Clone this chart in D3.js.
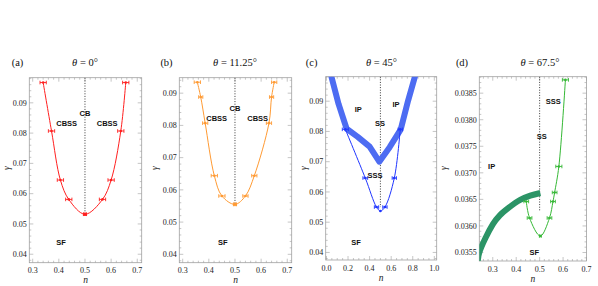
<!DOCTYPE html>
<html><head><meta charset="utf-8">
<script src="https://cdn.jsdelivr.net/npm/d3@7"></script>
<style>body{margin:0;background:#fff}svg{display:block}</style>
</head><body>
<svg id="chart" width="598" height="286"></svg>
<script>
// ---------- data ----------
const nA = [0.340, 0.372, 0.406, 0.438, 0.500, 0.567, 0.600, 0.637, 0.656];
const gA = [0.0967, 0.0807, 0.0645, 0.0581, 0.0532, 0.0581, 0.0645, 0.0807, 0.0967];
const eA = [0.012, 0.012, 0.012, 0.012, 0.006, 0.012, 0.012, 0.012, 0.012];

const nB = [0.356, 0.369, 0.386, 0.421, 0.450, 0.500, 0.540, 0.574, 0.630, 0.640, 0.650];
const gB = [0.0934, 0.0888, 0.0807, 0.0644, 0.0581, 0.0555, 0.0581, 0.0644, 0.0807, 0.0888, 0.0934];
const eB = [0.012, 0.008, 0.010, 0.012, 0.012, 0.006, 0.010, 0.010, 0.010, 0.008, 0.010];

const nC = [0.175, 0.360, 0.464, 0.500, 0.542, 0.629, 0.684];
const gC = [0.0807, 0.0646, 0.0550, 0.0537, 0.0550, 0.0646, 0.0807];
const eC = [0.028, 0.022, 0.020, 0, 0.020, 0.020, 0.020];
const nCband = [0.025, 0.112, 0.187, 0.290, 0.400, 0.490, 0.586, 0.689, 0.757, 0.840];
const gCband = [0.1010, 0.0891, 0.0809, 0.0782, 0.0750, 0.0700, 0.0748, 0.0807, 0.0902, 0.1006];

const nD = [0.443, 0.457, 0.503, 0.542, 0.557, 0.564, 0.582, 0.610];
const gD = [0.03646, 0.03615, 0.03581, 0.03615, 0.03646, 0.03663, 0.03712, 0.03875];
const eD = [0.010, 0.010, 0.004, 0.010, 0.010, 0.010, 0.013, 0.013];
const nDband = [0.235, 0.2425, 0.300, 0.330, 0.367, 0.417, 0.460, 0.503];
const gDband = [0.03530, 0.03550, 0.03603, 0.03620, 0.03634, 0.03649, 0.03657, 0.03662];

const xTicksAB = [0.3, 0.4, 0.5, 0.6, 0.7];
const yTicksABC = [0.04, 0.05, 0.06, 0.07, 0.08, 0.09];
const xTicksC = [0.0, 0.2, 0.4, 0.6, 0.8, 1.0];
const xTicksD = [0.3, 0.4, 0.5, 0.6, 0.7];
const yTicksD = [0.0355, 0.0360, 0.0365, 0.0370, 0.0375, 0.0380, 0.0385];

const titles = ["0", "11.25", "45", "67.5"];
const letters = ["(a)", "(b)", "(c)", "(d)"];

// ---------- layout ----------
const panels = [
  {box:[29.3,141.7,77.7,262.7], xd:[0.287,0.717], yd:[0.0372,0.0983], xt:xTicksAB, xm:0.02, yt:yTicksABC, ym:0.002,
   fx:".1f", fy:".2f", color:"#ff1f1f", n:nA, g:gA, e:eA, vErr:[4], dotTo:0.0532, lx:17.5, tx:85, gx:9.5,
   band:null,
   labels:[["CBSS",0.430,0.0834],["CB",0.500,0.0865],["CBSS",0.585,0.0834],["SF",0.408,0.0438]]},
  {box:[179.3,291.7,77.7,262.7], xd:[0.287,0.717], yd:[0.0374,0.0948], xt:xTicksAB, xm:0.02, yt:yTicksABC, ym:0.002,
   fx:".1f", fy:".2f", color:"#ff9a33", n:nB, g:gB, e:eB, vErr:[5], dotTo:0.0555, lx:166.5, tx:235, gx:157.5,
   band:null,
   labels:[["CBSS",0.430,0.0822],["CB",0.500,0.0852],["CBSS",0.587,0.0822],["SF",0.453,0.0436]]},
  {box:[325.7,436.7,76.7,260], xd:[-0.007,1.022], yd:[0.0375,0.0981], xt:xTicksC, xm:0.05, yt:yTicksABC, ym:0.002,
   fx:".1f", fy:".2f", color:"#1f35ff", n:nC, g:gC, e:eC, vErr:[], dotTo:0.0550, lx:311.7, tx:381.5, gx:307,
   band:[nCband,gCband], bandColor:"#4d6cf2", bandCurve:"linear",
   labels:[["IP",0.295,0.0874],["IP",0.645,0.0891],["SS",0.496,0.0827],["SSS",0.450,0.0656],["SF",0.274,0.0432]]},
  {box:[479.3,586.5,76.7,261], xd:[0.2425,0.7], yd:[0.03534,0.03881], xt:xTicksD, xm:0.02, yt:yTicksD, ym:0.0001,
   fx:".1f", fy:".4f", color:"#35b835", n:nD, g:gD, e:eD, vErr:[], dotTo:0.03627, lx:462, tx:540, gx:447,
   band:[nDband,gDband], bandColor:"#2b9466", bandCurve:"smooth",
   labels:[["SSS",0.558,0.03834],["SS",0.509,0.03769],["IP",0.295,0.03713],["SF",0.477,0.03551]]}
];

const svg = d3.select("#chart");
const serif = "'Liberation Serif','Times New Roman',serif";
const sans = "'Liberation Sans',Arial,sans-serif";
const frameCol = "#a0a0a0";
const textCol = "#222";

panels.forEach((p, i) => {
  const [L, R, T, B] = p.box;
  const x = d3.scaleLinear().domain(p.xd).range([L, R]);
  const y = d3.scaleLinear().domain(p.yd).range([B, T]);
  const g = svg.append("g");

  const cid = "clip" + i;
  svg.append("clipPath").attr("id", cid).append("rect")
    .attr("x", L).attr("y", T).attr("width", R - L).attr("height", B - T);

  g.append("rect").attr("x", L).attr("y", T).attr("width", R - L).attr("height", B - T)
    .attr("fill", "none").attr("stroke", frameCol).attr("stroke-width", 0.8);

  const inX = v => v >= p.xd[0] - 1e-9 && v <= p.xd[1] + 1e-9;
  const inY = v => v >= p.yd[0] - 1e-12 && v <= p.yd[1] + 1e-12;
  const xmin = d3.range(Math.ceil(p.xd[0] / p.xm - 1e-6), Math.floor(p.xd[1] / p.xm + 1e-6) + 1).map(k => k * p.xm);
  const ymin = d3.range(Math.ceil(p.yd[0] / p.ym - 1e-6), Math.floor(p.yd[1] / p.ym + 1e-6) + 1).map(k => k * p.ym);
  const tk = g.append("g").attr("stroke", frameCol).attr("stroke-width", 0.6);
  xmin.forEach(v => {
    const major = p.xt.some(t => Math.abs(t - v) < p.xm / 10);
    const len = major ? 4 : 2;
    tk.append("line").attr("x1", x(v)).attr("x2", x(v)).attr("y1", B).attr("y2", B - len);
    tk.append("line").attr("x1", x(v)).attr("x2", x(v)).attr("y1", T).attr("y2", T + len);
  });
  ymin.forEach(v => {
    const major = p.yt.some(t => Math.abs(t - v) < p.ym / 10);
    const len = major ? 4 : 2;
    tk.append("line").attr("y1", y(v)).attr("y2", y(v)).attr("x1", L).attr("x2", L + len);
    tk.append("line").attr("y1", y(v)).attr("y2", y(v)).attr("x1", R).attr("x2", R - len);
  });

  p.xt.filter(inX).forEach(v => {
    g.append("text").attr("x", x(v)).attr("y", B + 10.5).attr("text-anchor", "middle")
      .attr("font-family", serif).attr("font-size", 8).attr("fill", textCol).text(d3.format(p.fx)(v));
  });
  p.yt.filter(inY).forEach(v => {
    g.append("text").attr("x", L - 2.5).attr("y", y(v) + 2.8).attr("text-anchor", "end")
      .attr("font-family", serif).attr("font-size", 8).attr("fill", textCol).text(d3.format(p.fy)(v));
  });

  g.append("text").attr("x", (L + R) / 2).attr("y", B + 20.5).attr("text-anchor", "middle")
    .attr("font-family", serif).attr("font-style", "italic").attr("font-size", 9.5).attr("fill", textCol).text("n");
  g.append("text").attr("transform", `translate(${p.gx},168) rotate(-90)`).attr("text-anchor", "middle")
    .attr("font-family", serif).attr("font-style", "italic").attr("font-size", 9.5).attr("fill", textCol).text("γ");

  g.append("text").attr("x", p.lx).attr("y", 66).attr("text-anchor", "middle")
    .attr("font-family", serif).attr("font-size", 10.5).attr("fill", "#111").text(letters[i]);
  const tt = g.append("text").attr("x", p.tx).attr("y", 66).attr("text-anchor", "middle")
    .attr("font-family", serif).attr("font-size", 10.5).attr("fill", "#111");
  tt.append("tspan").attr("font-style", "italic").text("θ");
  tt.append("tspan").text(" = " + titles[i] + "°");

  const plot = g.append("g").attr("clip-path", `url(#${cid})`);

  plot.append("line").attr("x1", x(0.5)).attr("x2", x(0.5)).attr("y1", T).attr("y2", y(p.dotTo))
    .attr("stroke", "#222").attr("stroke-width", 0.9).attr("stroke-dasharray", "1,1.6");

  if (p.band) {
    const bd = p.band[0].map((v, k) => [v, p.band[1][k]]);
    const cv = p.bandCurve === "linear" ? d3.curveLinear : d3.curveCatmullRom.alpha(0.5);
    plot.append("path").datum(bd)
      .attr("d", d3.line().x(d => x(d[0])).y(d => y(d[1])).curve(cv))
      .attr("fill", "none").attr("stroke", p.bandColor).attr("stroke-width", 6).attr("stroke-linejoin", "round");
  }

  const pts = p.n.map((v, k) => [v, p.g[k], p.e[k]]);
  plot.append("path").datum(pts)
    .attr("d", d3.line().x(d => x(d[0])).y(d => y(d[1])).curve(d3.curveCatmullRom.alpha(0.5)))
    .attr("fill", "none").attr("stroke", p.color).attr("stroke-width", 1);

  pts.forEach((d, k) => {
    const cx = x(d[0]), cy = y(d[1]);
    if (d[2] > 0) {
      const x0 = x(d[0] - d[2]), x1 = x(d[0] + d[2]);
      plot.append("line").attr("x1", x0).attr("x2", x1).attr("y1", cy).attr("y2", cy).attr("stroke", p.color).attr("stroke-width", 0.9);
      plot.append("line").attr("x1", x0).attr("x2", x0).attr("y1", cy - 1.8).attr("y2", cy + 1.8).attr("stroke", p.color).attr("stroke-width", 0.9);
      plot.append("line").attr("x1", x1).attr("x2", x1).attr("y1", cy - 1.8).attr("y2", cy + 1.8).attr("stroke", p.color).attr("stroke-width", 0.9);
    }
    if (p.vErr.includes(k)) {
      const y0 = y(d[1] - 0.0004), y1 = y(d[1] + 0.0004);
      plot.append("line").attr("x1", cx).attr("x2", cx).attr("y1", y0).attr("y2", y1).attr("stroke", p.color).attr("stroke-width", 0.9);
      plot.append("line").attr("x1", cx - 1.8).attr("x2", cx + 1.8).attr("y1", y0).attr("y2", y0).attr("stroke", p.color).attr("stroke-width", 0.9);
      plot.append("line").attr("x1", cx - 1.8).attr("x2", cx + 1.8).attr("y1", y1).attr("y2", y1).attr("stroke", p.color).attr("stroke-width", 0.9);
    }
    plot.append("circle").attr("cx", cx).attr("cy", cy).attr("r", 1.3).attr("fill", p.color);
  });

  p.labels.forEach(([t, nx, gy]) => {
    g.append("text").attr("x", x(nx)).attr("y", y(gy) + 2.7).attr("text-anchor", "middle")
      .attr("font-family", sans).attr("font-weight", "bold").attr("font-size", 7.5).attr("fill", "#111").text(t);
  });
});
</script>
</body></html>
